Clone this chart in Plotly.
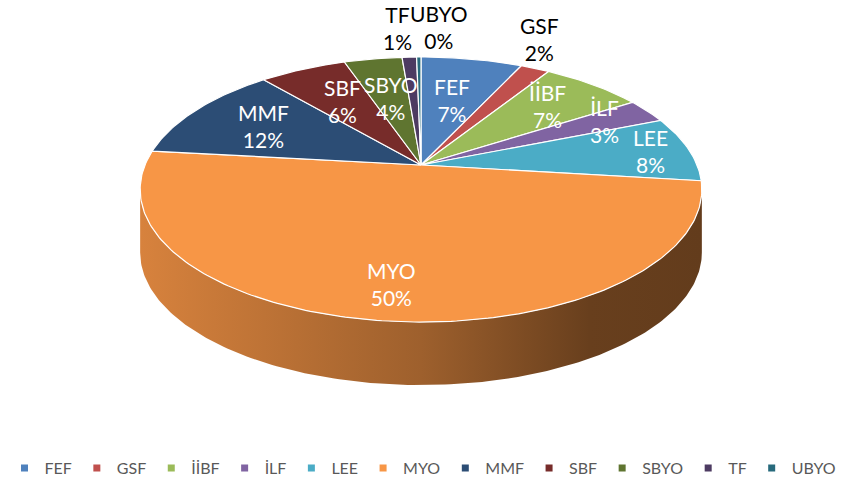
import numpy as np
import plotly.graph_objects as go

# ---------------- data ----------------
categories = ["FEF", "GSF", "İİBF", "İLF", "LEE", "MYO", "MMF", "SBF", "SBYO", "TF", "UBYO"]
values = [7, 2, 7, 3, 8, 50, 12, 6, 4, 1, 0.3]
colors = ["#4F81BD", "#C0504D", "#9BBB59", "#8064A2", "#4BACC6", "#F79646",
          "#2C4D75", "#772C2A", "#5F7530", "#4D3B62", "#276A7C"]

# ---------------- geometry of the 3D pie (perspective ellipse) ----------------
W, H = 846, 492
CX, CY = 421, 165          # projected pie centre
A, B, K = 276, 128, 0.185  # horizontal/vertical radius, perspective factor
DEPTH = 63                 # thickness of the pie
FONT = "Lato"


def proj(theta, r=1.0, dy=0.0):
    u = r * np.sin(theta)
    v = r * np.cos(theta)
    d = 1 + K * v
    return CX + A * u / d, CY - B * v / d + dy


def shade(hexcol, f):
    h = hexcol.lstrip("#")
    rgb = [int(h[i:i + 2], 16) for i in (0, 2, 4)]
    return "rgb({},{},{})".format(*[int(round(c * f)) for c in rgb])


total = float(sum(values))
fracs = [v / total for v in values]
cum = np.concatenate([[0], np.cumsum(fracs)])
starts = cum[:-1] * 2 * np.pi
ends = cum[1:] * 2 * np.pi

fig = go.Figure()

# legend entries
for cat, col in zip(categories, colors):
    fig.add_trace(go.Scatter(x=[None], y=[None], mode="markers", name=cat,
                             marker=dict(symbol="square", size=7, color=col),
                             hoverinfo="skip"))

# visible side range (front faces)
t_left = np.arccos(-K)
t_right = 2 * np.pi - t_left

for i, (a0, a1) in enumerate(zip(starts, ends)):
    s0, s1 = max(a0, t_left), min(a1, t_right)
    if s1 <= s0:
        continue
    n = max(4, int((s1 - s0) / (2 * np.pi) * 400))
    th = np.linspace(s0, s1, n)
    xt, yt = proj(th)
    xb, yb = proj(th[::-1], dy=DEPTH)
    xs = np.concatenate([xt, xb, xt[:1]])
    ys = np.concatenate([yt, yb, yt[:1]])
    fig.add_trace(go.Scatter(
        x=xs, y=ys, mode="lines", fill="toself", line=dict(width=0),
        fillgradient=dict(type="horizontal",
                          colorscale=[[0, shade(colors[i], 0.87)],
                                      [0.5, shade(colors[i], 0.64)],
                                      [0.8, shade(colors[i], 0.42)],
                                      [1, shade(colors[i], 0.40)]]),
        showlegend=False, hoverinfo="skip"))

# top faces
for i, (a0, a1) in enumerate(zip(starts, ends)):
    n = max(3, int((a1 - a0) / (2 * np.pi) * 400))
    th = np.linspace(a0, a1, n)
    xa, ya = proj(th)
    xs = np.concatenate([[CX], xa, [CX]])
    ys = np.concatenate([[CY], ya, [CY]])
    fig.add_trace(go.Scatter(
        x=xs, y=ys, mode="lines", fill="toself", fillcolor=colors[i],
        line=dict(color="white", width=1.2), showlegend=False, hoverinfo="skip"))

# labels (best-fit style: inside for larger slices, outside for small ones)
annotations = []
top_left_outside = []
for i, (a0, a1) in enumerate(zip(starts, ends)):
    mid = (a0 + a1) / 2
    pct = int(round(fracs[i] * 100))
    text = f"{categories[i]}<br>{pct}%"
    s = np.sin(mid)
    if fracs[i] >= 0.025:
        r = 0.56 + (0.3 * s ** 2 if s > 0 else 0.14 * abs(s))
        if fracs[i] > 0.3:
            r = 0.8
        x, y = proj(mid, r)
        annotations.append(dict(x=x, y=y, text=text, showarrow=False,
                                xanchor="center", yanchor="middle",
                                font=dict(family=FONT, size=21, color="white")))
    else:
        x, y = proj(mid, 1.05)
        xanchor = "center"
        if abs(s) < 0.15:
            xanchor = "left" if s > 0 else "right"
        ann = dict(x=x, y=y, text=text, showarrow=False,
                   xanchor=xanchor, yanchor="bottom", yshift=-3,
                   font=dict(family=FONT, size=21, color="black"))
        annotations.append(ann)
        if xanchor == "right":
            top_left_outside.append(ann)

# keep adjacent near-top outside labels side by side
if len(top_left_outside) > 1:
    last = top_left_outside[-1]
    last["xanchor"] = "left"
    last["x"] = CX - 13
    for ann in top_left_outside[:-1]:
        ann["x"] = CX - 7

fig.update_layout(
    width=W, height=H, autosize=False,
    margin=dict(l=0, r=0, t=0, b=0),
    paper_bgcolor="white", plot_bgcolor="white",
    xaxis=dict(range=[0, W], visible=False, fixedrange=True),
    yaxis=dict(range=[H, 0], visible=False, fixedrange=True),
    annotations=annotations,
    showlegend=True,
    legend=dict(orientation="h", x=0.5, xanchor="center",
                y=1 - 468 / H, yanchor="middle",
                font=dict(family=FONT, size=16, color="#595959"),
                itemwidth=30, bgcolor="rgba(0,0,0,0)"),
)

fig.write_html("out.html", config={"displayModeBar": False},
               post_script="document.body.style.margin='0px';")
